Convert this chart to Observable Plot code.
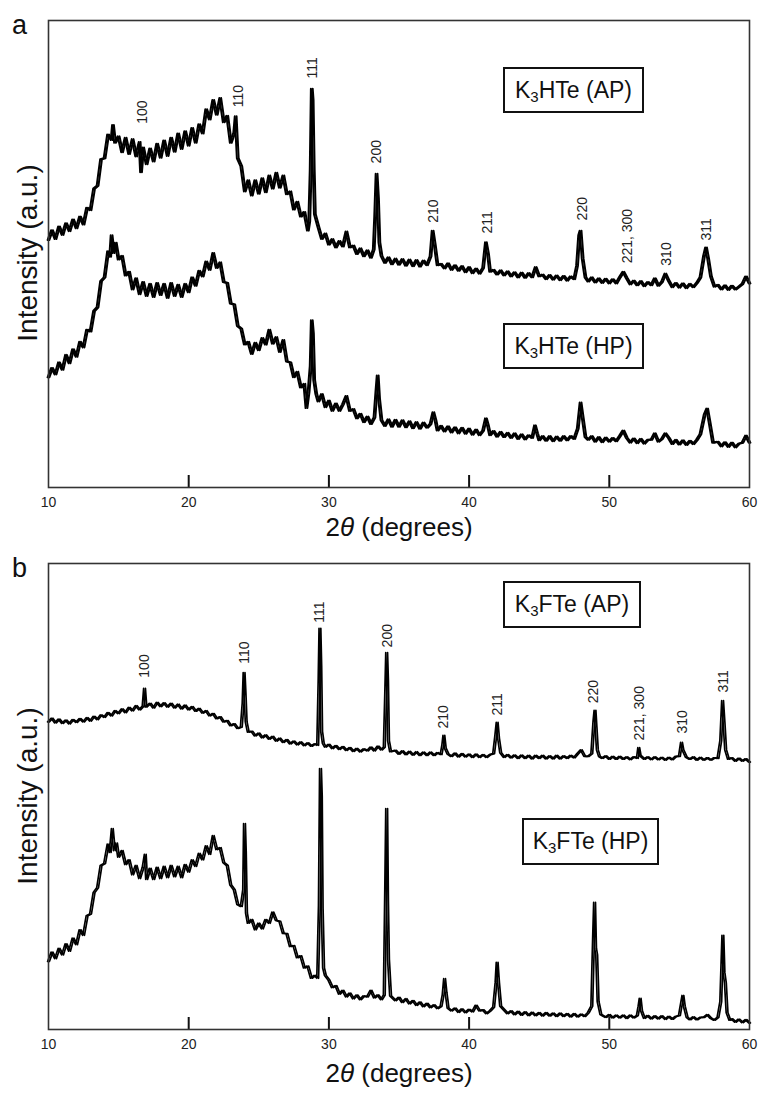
<!DOCTYPE html>
<html>
<head>
<meta charset="utf-8">
<script src="https://cdn.jsdelivr.net/npm/d3@7"></script>
<script src="https://cdn.jsdelivr.net/npm/@observablehq/plot@0.6"></script>
<style>
  html, body { margin: 0; padding: 0; background: #fff; }
  body { width: 759px; height: 1093px; position: relative; overflow: hidden; font-family: "Liberation Sans", Arial, Helvetica, sans-serif; color: #111; }
  .panel { position: absolute; left: 0; }
  .plabel { position: absolute; font-size: 27px; line-height: 1; color: #111; }
  .ylab { position: absolute; font-size: 28px; line-height: 1; white-space: nowrap; transform: translate(-50%, -50%) rotate(-90deg); color: #111; }
  .xlab { position: absolute; font-size: 26px; white-space: nowrap; transform: translateX(-50%); color: #111; line-height: 1; }
  .box { position: absolute; box-sizing: border-box; border: 2px solid #111; background: #fff; display: flex; align-items: center; justify-content: center; font-size: 23px; line-height: 1; white-space: nowrap; color: #111; }
  .box .sub { font-size: 15px; position: relative; top: 6px; }
</style>
</head>
<body>
<script>
// ---------- data (2θ in degrees, intensity in arbitrary units, curves already offset) ----------
const xTicks = [10, 20, 30, 40, 50, 60];

// Panel a: K3HTe (AP)
const aAP = [[10.00,53.0],[10.25,55.1],[10.50,53.2],[10.75,55.9],[11.00,54.1],[11.25,56.6],[11.50,54.9],[11.75,57.4],[12.00,55.5],[12.25,58.0],[12.50,56.3],[12.75,59.9],[13.00,59.4],[13.25,64.0],[13.50,64.6],[13.75,70.3],[14.00,70.5],[14.25,75.6],[14.50,74.4],[14.60,77.6],[14.75,73.8],[15.00,75.2],[15.25,71.8],[15.50,74.9],[15.75,71.4],[16.00,74.6],[16.25,70.9],[16.50,74.0],[16.60,67.5],[16.75,72.8],[17.00,69.2],[17.25,72.6],[17.50,69.8],[17.75,73.6],[18.00,70.6],[18.25,74.3],[18.50,71.0],[18.75,74.9],[19.00,71.9],[19.25,75.8],[19.50,72.5],[19.75,76.3],[20.00,73.2],[20.25,77.0],[20.50,73.8],[20.75,77.8],[21.00,75.8],[21.25,81.0],[21.50,78.8],[21.75,83.0],[22.00,79.8],[22.25,83.4],[22.50,78.2],[22.75,79.6],[23.00,73.8],[23.25,76.0],[23.35,79.5],[23.50,70.5],[23.75,68.8],[24.00,63.4],[24.25,65.8],[24.50,62.5],[24.75,65.8],[25.00,62.9],[25.25,66.2],[25.50,63.2],[25.75,66.8],[26.00,64.0],[26.25,67.4],[26.50,64.2],[26.75,66.8],[27.00,62.8],[27.25,63.4],[27.50,59.5],[27.75,61.2],[28.00,58.0],[28.25,59.0],[28.50,55.0],[28.60,57.0],[28.70,68.0],[28.78,85.4],[28.84,83.0],[28.92,68.0],[29.00,58.5],[29.25,55.8],[29.50,53.2],[29.75,54.4],[30.00,52.0],[30.25,53.2],[30.50,51.4],[30.75,52.8],[31.00,51.6],[31.25,54.8],[31.50,51.4],[31.75,51.8],[32.00,50.0],[32.25,51.2],[32.50,49.5],[32.75,50.8],[33.00,49.2],[33.20,51.0],[33.30,58.0],[33.40,67.2],[33.50,62.0],[33.60,52.5],[33.75,49.6],[34.00,48.1],[34.25,49.3],[34.50,47.8],[34.75,49.0],[35.00,47.7],[35.25,48.9],[35.50,47.5],[35.75,48.8],[36.00,47.4],[36.25,48.7],[36.50,47.3],[36.75,48.6],[37.00,47.6],[37.25,49.5],[37.40,55.0],[37.55,52.0],[37.75,47.6],[38.00,47.9],[38.25,46.9],[38.50,48.0],[38.75,46.6],[39.00,47.6],[39.25,46.4],[39.50,47.4],[39.75,46.1],[40.00,47.2],[40.25,45.9],[40.50,46.9],[40.75,45.8],[41.00,47.0],[41.20,52.5],[41.35,50.0],[41.50,46.2],[41.75,46.6],[42.00,45.6],[42.25,46.5],[42.50,45.4],[42.75,46.3],[43.00,45.2],[43.25,46.1],[43.50,45.0],[43.75,46.0],[44.00,44.9],[44.25,45.9],[44.50,45.0],[44.75,47.2],[45.00,45.2],[45.25,45.6],[45.50,44.6],[45.75,45.5],[46.00,44.5],[46.25,45.4],[46.50,44.4],[46.75,45.3],[47.00,44.3],[47.25,45.2],[47.50,44.6],[47.70,47.5],[47.85,54.0],[47.95,55.0],[48.10,49.0],[48.30,45.0],[48.50,44.1],[48.75,45.0],[49.00,43.9],[49.25,44.8],[49.50,43.8],[49.75,44.7],[50.00,43.7],[50.25,44.6],[50.50,43.7],[50.75,45.0],[51.00,46.2],[51.25,44.8],[51.50,43.5],[51.75,44.3],[52.00,43.3],[52.25,44.2],[52.50,43.1],[52.75,44.0],[53.00,43.3],[53.25,44.8],[53.50,43.2],[53.75,44.0],[54.00,45.8],[54.25,44.2],[54.50,42.9],[54.75,43.8],[55.00,42.8],[55.25,43.7],[55.50,42.7],[55.75,43.6],[56.00,42.9],[56.25,43.8],[56.50,45.0],[56.75,49.5],[56.90,51.4],[57.05,49.0],[57.25,45.2],[57.50,43.0],[57.75,43.4],[58.00,42.4],[58.25,43.3],[58.50,42.3],[58.75,43.2],[59.00,42.4],[59.25,43.0],[59.50,43.6],[59.75,45.2],[60.00,43.7]];

// Panel a: K3HTe (HP)
const aHP = [[10.00,23.6],[10.25,25.6],[10.50,24.2],[10.75,26.8],[11.00,25.2],[11.25,28.4],[11.50,26.6],[11.75,29.6],[12.00,28.0],[12.25,31.2],[12.50,30.0],[12.75,33.8],[13.00,33.4],[13.25,37.8],[13.50,38.6],[13.75,44.2],[14.00,45.0],[14.25,50.6],[14.40,49.4],[14.50,54.0],[14.65,50.2],[14.80,52.4],[15.00,48.8],[15.25,49.6],[15.50,45.4],[15.75,46.2],[16.00,42.4],[16.25,44.8],[16.50,41.4],[16.75,44.0],[17.00,41.0],[17.25,43.6],[17.50,40.8],[17.75,43.8],[18.00,41.2],[18.25,43.6],[18.50,40.6],[18.75,43.8],[19.00,41.0],[19.25,43.4],[19.50,40.8],[19.75,43.6],[20.00,41.8],[20.25,45.0],[20.50,43.2],[20.75,46.4],[21.00,45.2],[21.25,48.4],[21.50,46.6],[21.75,50.2],[22.00,47.0],[22.25,48.2],[22.50,44.0],[22.75,43.8],[23.00,39.4],[23.25,39.2],[23.50,34.6],[23.75,34.0],[24.00,30.6],[24.25,31.2],[24.50,28.6],[24.75,31.0],[25.00,29.4],[25.25,32.0],[25.50,30.6],[25.75,33.8],[26.00,30.8],[26.25,32.2],[26.50,29.0],[26.75,31.6],[27.00,27.0],[27.25,26.8],[27.50,23.6],[27.75,24.8],[28.00,21.4],[28.25,22.2],[28.40,17.0],[28.55,20.4],[28.70,26.0],[28.78,35.8],[28.86,33.0],[28.95,23.0],[29.10,20.0],[29.25,18.4],[29.50,20.0],[29.75,17.2],[30.00,18.6],[30.25,16.4],[30.50,18.0],[30.75,16.4],[31.00,17.8],[31.25,19.6],[31.50,16.4],[31.75,16.8],[32.00,14.8],[32.25,15.8],[32.50,14.0],[32.75,15.2],[33.00,13.6],[33.25,15.0],[33.40,21.0],[33.48,24.0],[33.58,19.0],[33.75,14.4],[34.00,13.2],[34.25,14.6],[34.50,13.0],[34.75,14.5],[35.00,13.0],[35.25,14.4],[35.50,12.9],[35.75,14.2],[36.00,12.7],[36.25,14.0],[36.50,12.6],[36.75,13.9],[37.00,12.8],[37.25,13.6],[37.45,16.1],[37.60,14.4],[37.75,12.2],[38.00,13.2],[38.25,12.0],[38.50,13.1],[38.75,11.8],[39.00,12.9],[39.25,11.6],[39.50,12.8],[39.75,11.5],[40.00,12.6],[40.25,11.3],[40.50,12.4],[40.75,11.2],[41.00,12.2],[41.20,14.8],[41.35,13.2],[41.50,11.2],[41.75,12.1],[42.00,10.9],[42.25,11.9],[42.50,10.8],[42.75,11.7],[43.00,10.6],[43.25,11.6],[43.50,10.4],[43.75,11.4],[44.00,10.3],[44.25,11.2],[44.50,10.6],[44.70,13.3],[44.85,11.6],[45.00,10.1],[45.25,11.0],[45.50,10.0],[45.75,11.0],[46.00,9.9],[46.25,10.9],[46.50,10.0],[46.75,11.0],[47.00,10.1],[47.25,11.0],[47.50,10.4],[47.75,12.6],[47.95,18.2],[48.10,15.0],[48.30,10.8],[48.50,10.2],[48.75,11.0],[49.00,9.8],[49.25,10.8],[49.50,9.7],[49.75,10.7],[50.00,9.8],[50.25,10.6],[50.50,9.9],[50.75,11.0],[51.00,12.2],[51.25,10.6],[51.50,9.6],[51.75,10.5],[52.00,9.5],[52.25,10.4],[52.50,9.4],[52.75,10.2],[53.00,10.2],[53.25,11.6],[53.50,9.8],[53.75,10.4],[54.00,11.6],[54.25,10.6],[54.50,9.3],[54.75,10.2],[55.00,9.2],[55.25,10.1],[55.50,9.1],[55.75,10.0],[56.00,9.3],[56.25,10.2],[56.50,11.4],[56.80,15.6],[56.98,16.9],[57.15,14.0],[57.40,9.6],[57.75,9.8],[58.00,8.8],[58.25,9.7],[58.50,8.7],[58.75,9.6],[59.00,8.6],[59.25,9.4],[59.50,9.6],[59.75,11.1],[60.00,9.6]];

// Panel b: K3FTe (AP)
const bAP = [[10.00,66.0],[10.25,66.8],[10.50,65.8],[10.75,66.6],[11.00,65.7],[11.25,66.4],[11.50,65.6],[11.75,66.5],[12.00,65.9],[12.25,66.7],[12.50,66.0],[12.75,66.9],[13.00,66.2],[13.25,67.2],[13.50,66.5],[13.75,67.5],[14.00,67.0],[14.25,68.0],[14.50,67.3],[14.75,68.4],[15.00,67.8],[15.25,68.8],[15.50,68.0],[15.75,69.1],[16.00,68.4],[16.25,69.5],[16.50,68.6],[16.75,69.4],[16.85,73.2],[16.95,69.2],[17.25,70.0],[17.50,69.0],[17.75,70.2],[18.00,69.3],[18.25,70.1],[18.50,69.2],[18.75,70.0],[19.00,69.0],[19.25,69.8],[19.50,68.8],[19.75,69.6],[20.00,68.6],[20.25,69.3],[20.50,68.3],[20.75,68.9],[21.00,67.9],[21.25,68.4],[21.50,67.3],[21.75,67.8],[22.00,66.7],[22.25,67.1],[22.50,66.0],[22.75,66.3],[23.00,65.2],[23.25,65.6],[23.50,64.6],[23.75,64.9],[23.88,70.0],[23.95,76.6],[24.02,72.0],[24.10,66.0],[24.25,63.8],[24.50,64.0],[24.75,63.0],[25.00,63.6],[25.25,62.6],[25.50,63.2],[25.75,62.3],[26.00,62.9],[26.25,61.9],[26.50,62.5],[26.75,61.6],[27.00,62.2],[27.25,61.3],[27.50,61.9],[27.75,61.1],[28.00,61.7],[28.25,60.9],[28.50,61.5],[28.75,60.8],[29.00,61.3],[29.20,61.0],[29.30,75.0],[29.36,86.1],[29.42,78.0],[29.48,64.0],[29.60,61.4],[29.75,60.6],[30.00,61.2],[30.25,60.3],[30.50,60.9],[30.75,60.1],[31.00,60.7],[31.25,59.9],[31.50,60.5],[31.75,59.7],[32.00,60.3],[32.25,59.6],[32.50,60.2],[32.75,59.8],[33.00,60.6],[33.25,59.8],[33.50,60.8],[33.75,60.0],[33.95,60.6],[34.05,72.0],[34.12,80.9],[34.18,75.0],[34.25,62.0],[34.40,59.6],[34.75,59.9],[35.00,59.1],[35.25,59.8],[35.50,59.0],[35.75,59.7],[36.00,58.9],[36.25,59.6],[36.50,58.8],[36.75,59.5],[37.00,58.8],[37.25,59.5],[37.50,58.8],[37.75,59.4],[38.00,59.0],[38.12,61.0],[38.20,63.1],[38.30,60.4],[38.50,59.1],[38.75,58.6],[39.00,59.3],[39.25,58.5],[39.50,59.2],[39.75,58.5],[40.00,59.1],[40.25,58.4],[40.50,59.1],[40.75,58.4],[41.00,59.0],[41.25,58.4],[41.50,59.0],[41.75,59.2],[41.90,63.0],[42.00,65.9],[42.10,62.5],[42.25,59.4],[42.50,58.4],[42.75,59.0],[43.00,58.3],[43.25,58.9],[43.50,58.2],[43.75,58.9],[44.00,58.2],[44.25,58.8],[44.50,58.1],[44.75,58.8],[45.00,58.2],[45.25,58.8],[45.50,58.1],[45.75,58.7],[46.00,58.1],[46.25,58.8],[46.50,58.1],[46.75,58.7],[47.00,58.2],[47.25,58.8],[47.50,58.3],[47.75,59.2],[48.00,60.0],[48.25,58.6],[48.50,58.6],[48.75,59.2],[48.90,66.0],[48.98,68.5],[49.05,65.0],[49.15,60.0],[49.30,58.6],[49.50,58.2],[49.75,58.7],[50.00,58.0],[50.25,58.6],[50.50,58.0],[50.75,58.6],[51.00,58.0],[51.25,58.5],[51.50,57.9],[51.75,58.5],[52.00,58.2],[52.10,60.5],[52.20,58.8],[52.50,58.0],[52.75,58.5],[53.00,57.9],[53.25,58.5],[53.50,57.9],[53.75,58.4],[54.00,57.8],[54.25,58.4],[54.50,57.9],[54.75,58.6],[55.00,58.6],[55.15,61.6],[55.25,60.0],[55.50,58.4],[55.75,58.0],[56.00,58.5],[56.25,57.8],[56.50,58.4],[56.75,57.8],[57.00,58.3],[57.25,57.8],[57.50,58.3],[57.75,58.2],[57.95,62.0],[58.08,70.6],[58.18,66.0],[58.30,60.0],[58.50,58.0],[58.75,58.3],[59.00,57.6],[59.25,58.2],[59.50,57.6],[59.75,58.1],[60.00,57.4]];

// Panel b: K3FTe (HP)
const bHP = [[10.00,14.6],[10.25,16.6],[10.50,15.2],[10.75,17.4],[11.00,16.0],[11.25,18.4],[11.50,16.8],[11.75,19.6],[12.00,18.2],[12.25,21.4],[12.50,20.2],[12.75,24.4],[13.00,24.8],[13.25,29.4],[13.50,30.4],[13.75,35.2],[14.00,35.6],[14.25,39.8],[14.40,38.0],[14.55,43.1],[14.70,38.4],[14.85,40.0],[15.00,37.0],[15.25,38.4],[15.50,35.4],[15.75,36.4],[16.00,33.2],[16.25,35.2],[16.50,32.4],[16.75,34.8],[16.90,37.6],[17.00,32.2],[17.25,34.6],[17.50,32.2],[17.75,34.8],[18.00,32.4],[18.25,35.0],[18.50,32.6],[18.75,35.2],[19.00,32.8],[19.25,35.0],[19.50,32.6],[19.75,35.4],[20.00,33.8],[20.25,36.4],[20.50,35.0],[20.75,37.8],[21.00,36.4],[21.25,39.4],[21.50,37.6],[21.75,41.6],[22.00,38.6],[22.25,39.0],[22.50,35.8],[22.75,35.2],[23.00,31.0],[23.25,30.0],[23.50,26.8],[23.75,26.4],[23.92,30.0],[23.98,44.2],[24.04,38.0],[24.12,25.0],[24.25,22.8],[24.50,23.6],[24.75,21.4],[25.00,22.8],[25.25,21.6],[25.50,23.6],[25.75,22.8],[26.00,25.2],[26.25,23.4],[26.50,23.2],[26.75,20.6],[27.00,20.6],[27.25,17.8],[27.50,18.0],[27.75,15.4],[28.00,15.8],[28.25,13.2],[28.50,13.6],[28.75,11.0],[29.00,11.6],[29.20,11.0],[29.32,26.6],[29.40,56.0],[29.46,50.0],[29.52,26.0],[29.62,13.2],[29.75,11.6],[30.00,10.6],[30.25,9.0],[30.50,9.4],[30.75,7.6],[31.00,8.4],[31.25,7.0],[31.50,7.8],[31.75,6.6],[32.00,7.4],[32.25,6.4],[32.50,7.2],[32.75,7.0],[33.00,8.4],[33.25,6.8],[33.50,7.4],[33.75,6.4],[33.95,7.4],[34.05,30.0],[34.12,47.4],[34.18,27.7],[34.25,15.0],[34.40,7.2],[34.75,6.2],[35.00,6.9],[35.25,5.8],[35.50,6.6],[35.75,5.5],[36.00,6.2],[36.25,5.2],[36.50,5.9],[36.75,4.9],[37.00,5.6],[37.25,4.7],[37.50,5.3],[37.75,4.5],[38.00,5.0],[38.15,7.5],[38.25,10.9],[38.35,8.0],[38.50,4.6],[38.75,4.0],[39.00,4.6],[39.25,3.7],[39.50,4.4],[39.75,3.6],[40.00,4.3],[40.25,3.8],[40.50,5.2],[40.75,4.0],[41.00,4.2],[41.25,3.4],[41.50,4.0],[41.75,4.8],[41.92,10.0],[42.00,14.4],[42.10,10.0],[42.25,5.0],[42.50,4.2],[42.75,3.4],[43.00,4.0],[43.25,3.2],[43.50,3.9],[43.75,3.1],[44.00,3.8],[44.25,3.0],[44.50,3.7],[44.75,3.0],[45.00,3.6],[45.25,2.9],[45.50,3.6],[45.75,2.9],[46.00,3.5],[46.25,2.8],[46.50,3.5],[46.75,2.8],[47.00,3.4],[47.25,2.7],[47.50,3.4],[47.75,2.7],[48.00,3.3],[48.25,2.8],[48.50,3.6],[48.75,5.0],[48.88,20.0],[48.95,27.3],[49.02,17.4],[49.10,16.0],[49.20,6.0],[49.40,3.2],[49.75,2.6],[50.00,3.2],[50.25,2.5],[50.50,3.1],[50.75,2.5],[51.00,3.1],[51.25,2.4],[51.50,3.1],[51.75,2.5],[52.00,3.0],[52.12,5.0],[52.20,6.7],[52.30,4.0],[52.50,2.4],[52.75,3.0],[53.00,2.3],[53.25,2.9],[53.50,2.3],[53.75,2.9],[54.00,2.2],[54.25,2.8],[54.50,2.2],[54.75,2.8],[55.00,3.0],[55.15,5.6],[55.25,7.3],[55.35,5.0],[55.55,2.6],[55.75,2.1],[56.00,2.7],[56.25,2.1],[56.50,2.6],[56.75,2.6],[57.00,3.2],[57.25,2.4],[57.50,2.0],[57.75,2.6],[57.95,6.0],[58.10,20.2],[58.18,12.2],[58.28,10.0],[58.40,3.6],[58.60,2.0],[58.75,2.3],[59.00,1.6],[59.25,2.2],[59.50,1.5],[59.75,2.1],[60.00,1.4]];

// Reflection labels (hkl), their 2θ and the intensity where each label starts
const hklLabels = ["100", "110", "111", "200", "210", "211", "220", "221, 300", "310", "311"];
const aLabelPos = [16.7, 23.55, 28.83, 33.4, 37.46, 41.3, 48.1, 51.3, 54.1, 56.9];
const aLabelY   = [77.9, 81.4, 87.6, 69.4, 56.7, 54.4, 57.2, 48.0, 47.5, 52.9];
const bLabelPos = [16.85, 23.98, 29.33, 34.18, 38.17, 42.0, 48.87, 52.15, 55.2, 58.15];
const bLabelY   = [75.5, 78.5, 87.3, 82.0, 64.6, 67.4, 70.0, 62.0, 63.5, 72.3];

// ---------- layout ----------
const W = 759;
const ML = 48, MR = 10;
const TICK_PX = 12;
const FONT = "'Liberation Sans', Arial, Helvetica, sans-serif";

// each trace is stroked twice, half a sample apart, so the noisy scan reads as a dense band
function trace(data, width) {
  const o = {x: d => d[0], y: d => d[1], stroke: "#000", strokeWidth: width, strokeLinejoin: "round"};
  return [Plot.line(data, {...o, dx: -0.9}), Plot.line(data, {...o, dx: 0.9})];
}

function panel({height, mt, mb, top, bottom, labelPos, labelY, lineWidth}) {
  const innerH = height - mt - mb;
  const yDomain = [0, 100];
  const tickLen = TICK_PX / innerH * (yDomain[1] - yDomain[0]); // tick length expressed in y units
  const labels = hklLabels.map((t, i) => ({t, x: labelPos[i], y: labelY[i]}));
  return Plot.plot({
    width: W, height,
    marginLeft: ML, marginRight: MR, marginTop: mt, marginBottom: mb,
    style: {fontFamily: FONT, background: "transparent", overflow: "visible"},
    x: {domain: [10, 60], axis: null},
    y: {domain: yDomain, axis: null},
    marks: [
      trace(bottom, lineWidth),
      trace(top, lineWidth),
      Plot.text(labels, {x: "x", y: "y", text: "t", rotate: -90, textAnchor: "start", fontSize: 14, fill: "#222"}),
      // inward ticks standing on the bottom edge
      Plot.ruleX(xTicks.slice(1, -1), {x: d => d, y1: yDomain[0], y2: yDomain[0] + tickLen, stroke: "#111", strokeWidth: 2}),
      Plot.axisX({ticks: xTicks, tickSize: 0, tickPadding: 10, fontSize: 14, label: null, fill: "#222"}),
      Plot.frame({stroke: "#333", strokeWidth: 1.6})
    ]
  });
}

function addDiv(cls, html, style) {
  const d = document.createElement("div");
  d.className = cls;
  d.innerHTML = html;
  Object.assign(d.style, style);
  document.body.appendChild(d);
  return d;
}

// Panel a
const pa = document.createElement("div");
pa.className = "panel"; pa.style.top = "0px";
pa.appendChild(panel({height: 545, mt: 20, mb: 58, top: aAP, bottom: aHP, labelPos: aLabelPos, labelY: aLabelY, lineWidth: 2.0}));
document.body.appendChild(pa);

// Panel b
const pb = document.createElement("div");
pb.className = "panel"; pb.style.top = "545px";
pb.appendChild(panel({height: 548, mt: 18, mb: 64, top: bAP, bottom: bHP, labelPos: bLabelPos, labelY: bLabelY, lineWidth: 1.7}));
document.body.appendChild(pb);

// Annotations
addDiv("plabel", "a", {left: "12px", top: "12px"});
addDiv("plabel", "b", {left: "12px", top: "555px"});
addDiv("ylab", "Intensity (a.u.)", {left: "28px", top: "253px"});
addDiv("ylab", "Intensity (a.u.)", {left: "28px", top: "796px"});
addDiv("xlab", "2<i>θ</i> (degrees)", {left: "399px", top: "514px"});
addDiv("xlab", "2<i>θ</i> (degrees)", {left: "399px", top: "1060px"});
addDiv("box", "K<span class='sub'>3</span>HTe (AP)", {left: "503px", top: "67px", width: "141px", height: "46px"});
addDiv("box", "K<span class='sub'>3</span>HTe (HP)", {left: "503px", top: "323px", width: "141px", height: "46px"});
addDiv("box", "K<span class='sub'>3</span>FTe (AP)", {left: "503px", top: "581px", width: "138px", height: "47px"});
addDiv("box", "K<span class='sub'>3</span>FTe (HP)", {left: "522px", top: "818px", width: "137px", height: "47px"});
</script>
</body>
</html>
